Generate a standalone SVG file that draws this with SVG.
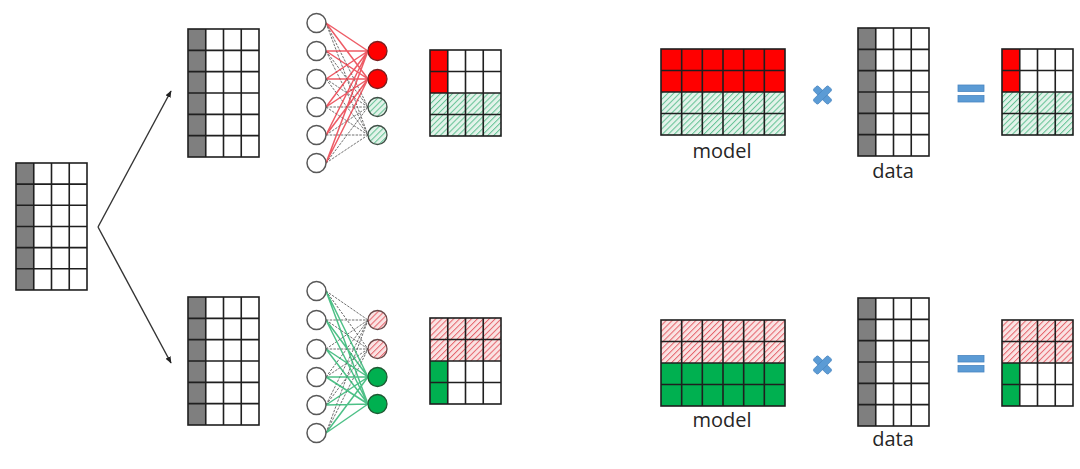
<svg xmlns="http://www.w3.org/2000/svg" xmlns:xlink="http://www.w3.org/1999/xlink" width="1080" height="469" viewBox="0 0 1080 469">
<style>
.grid{fill:none;stroke:#1f1f1f;stroke-width:1.6}
.gcol{fill:#7f7f7f}
.wh{fill:#ffffff}
.red{fill:#ff0000}
.grn{fill:#00b050}
.hg{fill:url(#hatchG)}
.hr{fill:url(#hatchR)}
.inp{fill:#fff;stroke:#595959;stroke-width:1.5}
.outR{fill:#ff0000;stroke:#7a2020;stroke-width:1.3}
.outG{fill:#00b050;stroke:#1f5a33;stroke-width:1.3}
.outHG{fill:url(#hatchG);stroke:#3f4f46;stroke-width:1.3}
.outHR{fill:url(#hatchR);stroke:#6a4a4a;stroke-width:1.3}
.lr{stroke:#e8323f;stroke-width:1.5;stroke-opacity:0.8}
.lg{stroke:#2fb572;stroke-width:1.5;stroke-opacity:0.85}
.lk{stroke:#555;stroke-width:1;stroke-dasharray:2.5 1.2;stroke-opacity:0.85}
.arr{stroke:#333;stroke-width:1.4;fill:none}
.lbl{font-family:'Open Sans','Liberation Sans',sans-serif;font-size:20px;fill:#262626;text-anchor:middle}
.op{fill:#5b9bd5;stroke:#4a86c0;stroke-width:0.8}
</style>
<defs>
<pattern id="hatchG" width="4.2" height="4.2" patternUnits="userSpaceOnUse" patternTransform="rotate(45)">
<rect width="4.2" height="4.2" fill="#e3f3ea"/>
<line x1="0" y1="0" x2="0" y2="4.2" stroke="#62c193" stroke-width="2"/>
</pattern>
<pattern id="hatchR" width="4.2" height="4.2" patternUnits="userSpaceOnUse" patternTransform="rotate(45)">
<rect width="4.2" height="4.2" fill="#fae3e3"/>
<line x1="0" y1="0" x2="0" y2="4.2" stroke="#e5636c" stroke-width="2"/>
</pattern>
<marker id="ah" viewBox="0 0 10 10" refX="9" refY="5" markerWidth="7" markerHeight="7" orient="auto" markerUnits="userSpaceOnUse">
<path d="M0,1 L10,5 L0,9 z" fill="#222"/>
</marker>
<g id="m46">
<rect x="0" y="0" width="71" height="128" class="wh"/>
<rect x="0" y="0" width="17.75" height="128" class="gcol"/>
<path class="grid" d="M17.75,0V128M35.5,0V128M53.25,0V128M0,21.33H71M0,42.67H71M0,64H71M0,85.33H71M0,106.67H71"/>
<rect x="0" y="0" width="71" height="128" class="grid"/>
</g>
<g id="outTop">
<rect x="0" y="0" width="71" height="43" class="wh"/>
<rect x="0" y="0" width="17.75" height="43" class="red"/>
<rect x="0" y="43" width="71" height="43" class="hg"/>
<path class="grid" d="M17.75,0V86M35.5,0V86M53.25,0V86M0,21.5H71M0,43H71M0,64.5H71"/>
<rect x="0" y="0" width="71" height="86" class="grid"/>
</g>
<g id="outBot">
<rect x="0" y="0" width="71" height="43" class="hr"/>
<rect x="0" y="43" width="71" height="43" class="wh"/>
<rect x="0" y="43" width="17.75" height="43" class="grn"/>
<path class="grid" d="M17.75,0V86M35.5,0V86M53.25,0V86M0,21.5H71M0,43H71M0,64.5H71"/>
<rect x="0" y="0" width="71" height="86" class="grid"/>
</g>
<path id="mgrid" class="grid" d="M20.67,0V86M41.33,0V86M62,0V86M82.67,0V86M103.33,0V86M0,21.5H124M0,43H124M0,64.5H124"/>
<g id="xop">
<rect x="-10.5" y="-3.3" width="21" height="6.6" rx="2" transform="rotate(45)"/>
<rect x="-10.5" y="-3.3" width="21" height="6.6" rx="2" transform="rotate(-45)"/>
</g>
</defs>
<rect width="1080" height="469" fill="#ffffff"/>

<g id="connectors">
<line class="arr" x1="98" y1="227" x2="171" y2="91" marker-end="url(#ah)"/>
<line class="arr" x1="98" y1="227" x2="171" y2="363" marker-end="url(#ah)"/>
<g id="top-net-links">
<path class="lk" d="M326,23L368,107M326,23L368,135M326,51L368,107M326,51L368,135M326,79L368,107M326,79L368,135M326,107L368,107M326,107L368,135M326,135L368,107M326,135L368,135M326,163L368,107M326,163L368,135"/>
<path class="lr" d="M326,23L368,51M326,23L368,79M326,51L368,51M326,51L368,79M326,79L368,51M326,79L368,79M326,107L368,51M326,107L368,79M326,135L368,51M326,135L368,79M326,163L368,51M326,163L368,79"/>
</g>
<g id="bottom-net-links">
<path class="lk" d="M326,291L368,320M326,291L368,349M326,320L368,320M326,320L368,349M326,349L368,320M326,349L368,349M326,377L368,320M326,377L368,349M326,405L368,320M326,405L368,349M326,433L368,320M326,433L368,349"/>
<path class="lg" d="M326,291L368,377M326,291L368,404M326,320L368,377M326,320L368,404M326,349L368,377M326,349L368,404M326,377L368,377M326,377L368,404M326,405L368,377M326,405L368,404M326,433L368,377M326,433L368,404"/>
</g>
</g>

<g id="input-matrix"><use xlink:href="#m46" transform="translate(16,163) scale(1,0.992)"/></g>
<g id="split-top-matrix"><use xlink:href="#m46" x="188" y="29"/></g>
<g id="split-bottom-matrix"><use xlink:href="#m46" x="188" y="297"/></g>

<g id="top-network">
<circle class="inp" cx="316.5" cy="23" r="9.5"/>
<circle class="inp" cx="316.5" cy="51" r="9.5"/>
<circle class="inp" cx="316.5" cy="79" r="9.5"/>
<circle class="inp" cx="316.5" cy="107" r="9.5"/>
<circle class="inp" cx="316.5" cy="135" r="9.5"/>
<circle class="inp" cx="316.5" cy="163" r="9.5"/>
<circle class="outR" cx="377.5" cy="51" r="9.5"/>
<circle class="outR" cx="377.5" cy="79" r="9.5"/>
<circle class="outHG" cx="377.5" cy="107" r="9.5"/>
<circle class="outHG" cx="377.5" cy="135" r="9.5"/>
</g>
<g id="bottom-network">
<circle class="inp" cx="316.5" cy="291" r="9.5"/>
<circle class="inp" cx="316.5" cy="320" r="9.5"/>
<circle class="inp" cx="316.5" cy="349" r="9.5"/>
<circle class="inp" cx="316.5" cy="377" r="9.5"/>
<circle class="inp" cx="316.5" cy="405" r="9.5"/>
<circle class="inp" cx="316.5" cy="433" r="9.5"/>
<circle class="outHR" cx="377.5" cy="320" r="9.5"/>
<circle class="outHR" cx="377.5" cy="349" r="9.5"/>
<circle class="outG" cx="377.5" cy="377" r="9.5"/>
<circle class="outG" cx="377.5" cy="404" r="9.5"/>
</g>

<g id="top-output"><use xlink:href="#outTop" x="430" y="50"/></g>
<g id="bottom-output"><use xlink:href="#outBot" x="430" y="318"/></g>

<g id="top-model">
<rect x="661" y="49" width="124" height="43" class="red"/>
<rect x="661" y="92" width="124" height="43" class="hg"/>
<use xlink:href="#mgrid" x="661" y="49"/>
<rect x="661" y="49" width="124" height="86" class="grid"/>
<text class="lbl" x="722" y="158">model</text>
</g>
<g id="top-times" class="op"><use xlink:href="#xop" transform="translate(822.5,95)"/></g>
<g id="top-data">
<use xlink:href="#m46" x="858" y="28"/>
<text class="lbl" x="893" y="178">data</text>
</g>
<g id="top-equals">
<rect class="op" x="958" y="85" width="26" height="6.5"/>
<rect class="op" x="958" y="95.5" width="26" height="6.5"/>
</g>
<g id="top-result"><use xlink:href="#outTop" x="1002" y="49"/></g>

<g id="bottom-model">
<rect x="661" y="320" width="124" height="43" class="hr"/>
<rect x="661" y="363" width="124" height="43" class="grn"/>
<use xlink:href="#mgrid" x="661" y="320"/>
<rect x="661" y="320" width="124" height="86" class="grid"/>
<text class="lbl" x="722" y="427">model</text>
</g>
<g id="bottom-times" class="op"><use xlink:href="#xop" transform="translate(822.5,365)"/></g>
<g id="bottom-data">
<use xlink:href="#m46" x="858" y="298"/>
<text class="lbl" x="893" y="446">data</text>
</g>
<g id="bottom-equals">
<rect class="op" x="958" y="355.5" width="26" height="6.5"/>
<rect class="op" x="958" y="365.5" width="26" height="6.5"/>
</g>
<g id="bottom-result"><use xlink:href="#outBot" x="1002" y="320"/></g>
</svg>
